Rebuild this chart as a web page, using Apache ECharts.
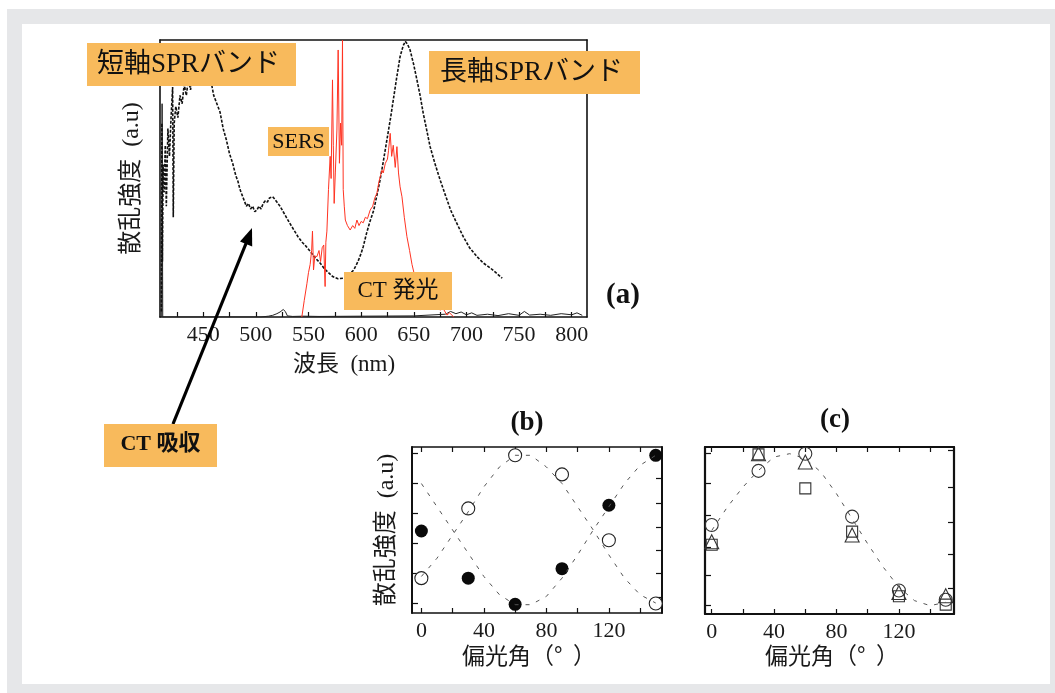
<!DOCTYPE html>
<html>
<head>
<meta charset="utf-8">
<script src="https://cdn.jsdelivr.net/npm/echarts@6.0.0/dist/echarts.min.js"></script>
<style>
  html, body { margin: 0; padding: 0; background: #ffffff; }
  #frame { position: absolute; left: 7px; top: 9px; width: 1048px; height: 684px; background: #e6e7e9; }
  #inner { position: absolute; left: 22px; top: 24px; width: 1028px; height: 660px; background: #ffffff; }
  #chart { position: absolute; left: 0; top: 0; width: 1055px; height: 693px; }
</style>
</head>
<body>
<div id="frame"></div>
<div id="inner"></div>
<div id="chart"></div>
<script>
// ---------- Panel (a): spectra (wavelength nm, relative intensity) ----------
const waveTicks = [450, 500, 550, 600, 650, 700, 750, 800];
const waveMinorTicks = [425, 450, 475, 500, 525, 550, 575, 600, 625, 650, 675, 700, 725, 750, 775, 800];

// scattering spectrum (short-axis + long-axis SPR bands)
const scatterSpectrum = [
  [410.3, 0.02], [410.8, 0.70], [411.3, 0.20], [412, 0.55], [413, 0.45], [414, 0.62], [415, 0.40],
  [416.5, 0.68], [418, 0.58], [419.5, 0.72], [421, 0.83], [421.6, 0.36], [422.5, 0.70], [424, 0.76],
  [426, 0.72], [428, 0.80], [430, 0.77], [432, 0.84], [434, 0.80], [436, 0.86], [438, 0.82], [440, 0.88],
  [443, 0.85], [446, 0.90], [449, 0.87], [452, 0.89], [455, 0.86], [458, 0.84], [460, 0.80], [463, 0.77],
  [466, 0.74], [469, 0.68], [472, 0.64], [475, 0.59], [478, 0.555], [481, 0.51], [483, 0.49], [485, 0.46],
  [487, 0.44], [489, 0.42], [491, 0.40], [493, 0.41], [495, 0.39], [497, 0.40], [499, 0.38], [501, 0.386],
  [503, 0.40], [505, 0.39], [507, 0.41], [509, 0.42], [511, 0.415], [513, 0.43], [516, 0.434], [518, 0.425],
  [520, 0.415], [523, 0.40], [526, 0.38], [529, 0.36], [532, 0.34], [536, 0.315], [540, 0.29], [544, 0.27],
  [548, 0.254], [552, 0.235], [556, 0.215], [561, 0.195], [565, 0.175], [569, 0.16], [573, 0.146],
  [578, 0.138], [583, 0.14], [588, 0.15], [593, 0.17], [597, 0.20], [600, 0.23], [602, 0.254], [605, 0.30],
  [608, 0.34], [612, 0.386], [615, 0.44], [618, 0.495], [621, 0.56], [624.5, 0.64], [628, 0.72],
  [631, 0.795], [634, 0.87], [637, 0.94], [640, 0.98], [642, 0.995], [644, 0.985], [646.5, 0.964],
  [650, 0.91], [653, 0.856], [656, 0.80], [659, 0.735], [662, 0.68], [665.5, 0.615], [670, 0.555],
  [675, 0.495], [680, 0.44], [685, 0.386], [690, 0.345], [697, 0.29], [703, 0.25], [710, 0.218],
  [716, 0.195], [723, 0.176], [728, 0.16], [734, 0.14]
];

// SERS + CT emission spectrum (red)
const emissionSpectrum = [
  [543.7, 0], [546, 0.06], [548.5, 0.12], [550, 0.16], [551.6, 0.19], [553, 0.24], [553.8, 0.31],
  [554.8, 0.17], [556, 0.22], [558, 0.218], [560, 0.24], [561.5, 0.20], [563, 0.25], [564.5, 0.26],
  [565.8, 0.11], [566.5, 0.27], [567.5, 0.31], [569, 0.46], [570.6, 0.58], [571.5, 0.50], [572.8, 0.856],
  [573.6, 0.62], [574.4, 0.41], [575.5, 0.52], [577, 0.675], [578.2, 0.964], [579.4, 0.555], [580.5, 0.70],
  [581.5, 0.62], [582.3, 1.0], [583, 0.46], [584, 0.40], [585, 0.35], [587, 0.33], [589.6, 0.314],
  [592, 0.33], [594, 0.32], [596, 0.35], [598, 0.33], [600, 0.345], [602, 0.34], [604, 0.36], [606, 0.355],
  [608.6, 0.386], [611, 0.40], [613, 0.43], [615, 0.447], [617, 0.49], [619.8, 0.53], [621, 0.52],
  [623, 0.555], [625, 0.57], [626, 0.60], [627.6, 0.663], [629, 0.58], [630.5, 0.62], [632.4, 0.54],
  [634, 0.615], [635.5, 0.52], [637, 0.47], [638.8, 0.434], [641, 0.36], [643.5, 0.29], [646, 0.24],
  [648.3, 0.19], [652, 0.13], [658, 0.08], [665, 0.05], [670, 0.04], [675, 0.025], [678, 0.03],
  [681.5, 0.007], [684, 0.015], [688, 0]
];

// background / baseline trace (thin solid black)
const baselineSpectrum = [
  [410.6, 0], [411, 0.77], [411.6, 0], [505, 0], [512, 0.003], [516, 0.006], [520, 0.012], [523, 0.018],
  [526, 0.027], [528, 0.02], [530, 0.004], [535, 0.002], [545, 0.003], [560, 0.002], [600, 0.003],
  [650, 0.004], [680, 0.01], [685, 0.02], [690, 0.012], [695, 0.018], [700, 0.008], [705, 0.015],
  [710, 0.006], [720, 0.01], [730, 0.005], [740, 0.012], [750, 0.006], [755, 0.02], [760, 0.007],
  [770, 0.01], [780, 0.006], [790, 0.012], [800, 0.008], [805, 0.015], [810, 0.006]
];

// ---------- Panels (b) and (c): polarization angle dependence ----------
const angleTicks = [0, 40, 80, 120];
const angleMinorTicks = [0, 20, 40, 60, 80, 100, 120, 140];
const measAngles = [0, 30, 60, 90, 120, 150];
const fitAngles = [0, 10, 20, 30, 40, 50, 60, 70, 80, 90, 100, 110, 120, 130, 140, 150];

// (b)
const bOpen   = [0.21, 0.63, 0.95, 0.835, 0.438, 0.057];
const bFilled = [0.494, 0.21, 0.052, 0.267, 0.649, 0.95];
const bOpenFit   = [0.22, 0.33, 0.47, 0.61, 0.76, 0.88, 0.95, 0.95, 0.88, 0.78, 0.64, 0.50, 0.35, 0.21, 0.11, 0.06];
const bFilledFit = [0.78, 0.64, 0.50, 0.36, 0.22, 0.11, 0.05, 0.05, 0.10, 0.21, 0.35, 0.50, 0.64, 0.78, 0.89, 0.95];
const bLeftTicks  = [0.057, 0.237, 0.418, 0.6, 0.78, 0.96];
const bRightTicks = [0.096, 0.237, 0.378, 0.518, 0.66, 0.81, 0.95];

// (c)
const cCircle   = [0.533, 0.857, 0.96, 0.583, 0.141, 0.085];
const cTriangle = [0.433, 0.96, 0.91, 0.473, 0.129, 0.109];
const cSquare   = [0.415, 0.956, 0.752, 0.493, 0.106, 0.056];
const cFit = [0.50, 0.64, 0.76, 0.86, 0.94, 0.96, 0.93, 0.85, 0.72, 0.57, 0.42, 0.28, 0.16, 0.08, 0.05, 0.07];
const cLeftTicks  = [0.05, 0.23, 0.40, 0.59, 0.78, 0.96];
const cRightTicks = [0.157, 0.356, 0.55, 0.76, 0.98];

const SERIF = '"Liberation Serif", "Times New Roman", "Noto Sans CJK JP", serif';
const JP = '"Noto Sans CJK JP", "Liberation Serif", sans-serif';
const MIX = '"Liberation Serif", "Noto Sans CJK JP", serif';
const ORANGE = '#F8BA5C';

const pairs = (xs, ys) => xs.map((x, i) => [x, ys[i]]);

function xAxisBottom(grid, min, max, labels, ticks, lw) {
  return {
    type: 'value', gridIndex: grid, position: 'bottom', min: min, max: max,
    axisLine: { show: true, onZero: false, lineStyle: { color: '#111', width: lw } },
    axisTick: { show: true, inside: true, length: 5, customValues: ticks, lineStyle: { color: '#111', width: 1.2 } },
    axisLabel: { show: true, customValues: labels, margin: 7, color: '#1a1a1a', fontSize: 22, fontFamily: SERIF },
    splitLine: { show: false }
  };
}
function xAxisTop(grid, min, max, ticks, lw) {
  return {
    type: 'value', gridIndex: grid, position: 'top', min: min, max: max,
    axisLine: { show: true, onZero: false, lineStyle: { color: '#111', width: lw } },
    axisTick: { show: !!ticks, inside: true, length: 5, customValues: ticks || [], lineStyle: { color: '#111', width: 1.2 } },
    axisLabel: { show: false }, splitLine: { show: false }
  };
}
function yAxisNamed(grid, pos, ticks, lw, name, nameGap) {
  const ax = {
    type: 'value', gridIndex: grid, position: pos, min: 0, max: 1,
    axisLine: { show: true, onZero: false, lineStyle: { color: '#111', width: lw } },
    axisTick: { show: !!ticks, inside: true, length: 6, customValues: ticks || [], lineStyle: { color: '#111', width: 1.2 } },
    axisLabel: { show: false }, splitLine: { show: false }
  };
  if (name) {
    ax.name = name;
    ax.nameLocation = 'middle';
    ax.nameGap = nameGap;
    ax.nameRotate = 90;
    ax.nameTextStyle = { color: '#1a1a1a', fontSize: 24, fontFamily: MIX };
  }
  return ax;
}

const chart = echarts.init(document.getElementById('chart'), null, { renderer: 'canvas' });

const option = {
  backgroundColor: 'transparent',
  animation: false,
  grid: [
    { left: 160, top: 40, width: 427, height: 277, show: false },
    { left: 412, top: 447, width: 250, height: 166, show: false },
    { left: 705, top: 447, width: 249, height: 167, show: false }
  ],
  xAxis: [
    xAxisBottom(0, 409, 814.5, waveTicks, waveMinorTicks, 1.6),
    xAxisTop(0, 409, 814.5, null, 1.6),
    xAxisBottom(1, -6, 154, angleTicks, angleMinorTicks, 1.5),
    xAxisTop(1, -6, 154, angleMinorTicks, 1.5),
    xAxisBottom(2, -4.3, 155.3, angleTicks, angleMinorTicks, 2),
    xAxisTop(2, -4.3, 155.3, angleMinorTicks, 2)
  ],
  yAxis: [
    yAxisNamed(0, 'left', null, 1.6, '散乱強度  (a.u)', 16),
    yAxisNamed(0, 'right', null, 1.6),
    yAxisNamed(1, 'left', bLeftTicks, 2, '散乱強度  (a.u)', 13),
    yAxisNamed(1, 'right', bRightTicks, 2),
    yAxisNamed(2, 'left', cLeftTicks, 2.2),
    yAxisNamed(2, 'right', cRightTicks, 2.2)
  ],
  series: [
    { type: 'line', xAxisIndex: 0, yAxisIndex: 0, data: baselineSpectrum, symbol: 'none', z: 2,
      lineStyle: { color: '#222', width: 1 } },
    { type: 'line', xAxisIndex: 0, yAxisIndex: 0, data: scatterSpectrum, symbol: 'none', z: 3,
      lineStyle: { color: '#111', width: 1.6, type: [3, 1.5] } },
    { type: 'line', xAxisIndex: 0, yAxisIndex: 0, data: emissionSpectrum, symbol: 'none', z: 4,
      lineStyle: { color: '#ff3322', width: 1 } },

    { type: 'line', xAxisIndex: 2, yAxisIndex: 2, data: pairs(fitAngles, bOpenFit), symbol: 'none',
      lineStyle: { color: '#555', width: 1, type: [4, 7] } },
    { type: 'line', xAxisIndex: 2, yAxisIndex: 2, data: pairs(fitAngles, bFilledFit), symbol: 'none',
      lineStyle: { color: '#555', width: 1, type: [4, 7] } },
    { type: 'scatter', xAxisIndex: 2, yAxisIndex: 2, data: pairs(measAngles, bOpen), symbol: 'circle', symbolSize: 13,
      itemStyle: { color: '#ffffff', borderColor: '#222', borderWidth: 1.1, opacity: 1 } },
    { type: 'scatter', xAxisIndex: 2, yAxisIndex: 2, data: pairs(measAngles, bFilled), symbol: 'circle', symbolSize: 13,
      itemStyle: { color: '#0a0a0a', opacity: 1 } },

    { type: 'line', xAxisIndex: 4, yAxisIndex: 4, data: pairs(fitAngles, cFit), symbol: 'none',
      lineStyle: { color: '#555', width: 1, type: [4, 7] } },
    { type: 'scatter', xAxisIndex: 4, yAxisIndex: 4, data: pairs(measAngles, cCircle), symbol: 'circle', symbolSize: 13,
      itemStyle: { color: 'rgba(255,255,255,0)', borderColor: '#333', borderWidth: 1.1, opacity: 1 } },
    { type: 'scatter', xAxisIndex: 4, yAxisIndex: 4, data: pairs(measAngles, cTriangle), symbol: 'triangle', symbolSize: 14,
      itemStyle: { color: 'rgba(255,255,255,0)', borderColor: '#333', borderWidth: 1.1, opacity: 1 } },
    { type: 'scatter', xAxisIndex: 4, yAxisIndex: 4, data: pairs(measAngles, cSquare), symbol: 'rect', symbolSize: 11,
      itemStyle: { color: 'rgba(255,255,255,0)', borderColor: '#333', borderWidth: 1.1, opacity: 1 } }
  ],
  graphic: [
    { type: 'text', x: 344, y: 365, style: { text: '波長  (nm)', fill: '#1a1a1a', font: '23px ' + MIX, align: 'center', verticalAlign: 'middle' } },
    { type: 'text', x: 529, y: 655, style: { text: '偏光角（°  ）', fill: '#1a1a1a', font: '23px ' + JP, align: 'center', verticalAlign: 'middle' } },
    { type: 'text', x: 832, y: 655, style: { text: '偏光角（°  ）', fill: '#1a1a1a', font: '23px ' + JP, align: 'center', verticalAlign: 'middle' } },
    { type: 'text', x: 623, y: 296, style: { text: '(a)', fill: '#111', font: 'bold 29px ' + SERIF, align: 'center', verticalAlign: 'middle' } },
    { type: 'text', x: 527, y: 423, style: { text: '(b)', fill: '#111', font: 'bold 27px ' + SERIF, align: 'center', verticalAlign: 'middle' } },
    { type: 'text', x: 835, y: 420, style: { text: '(c)', fill: '#111', font: 'bold 27px ' + SERIF, align: 'center', verticalAlign: 'middle' } },
    { type: 'rect', shape: { x: 87, y: 43, width: 209, height: 43 }, style: { fill: ORANGE }, z: 100 },
    { type: 'text', x: 97, y: 65, z: 101, style: { text: '短軸SPRバンド', fill: '#111', font: '27px ' + MIX, verticalAlign: 'middle' } },
    { type: 'rect', shape: { x: 429, y: 51, width: 211, height: 43 }, style: { fill: ORANGE }, z: 100 },
    { type: 'text', x: 440, y: 73, z: 101, style: { text: '長軸SPRバンド', fill: '#111', font: '27px ' + MIX, verticalAlign: 'middle' } },
    { type: 'rect', shape: { x: 268, y: 127, width: 61, height: 29 }, style: { fill: ORANGE }, z: 100 },
    { type: 'text', x: 298.5, y: 142, z: 101, style: { text: 'SERS', fill: '#111', font: '22px ' + SERIF, align: 'center', verticalAlign: 'middle' } },
    { type: 'rect', shape: { x: 344, y: 272, width: 108, height: 38 }, style: { fill: ORANGE }, z: 100 },
    { type: 'text', x: 398, y: 291, z: 101, style: { text: 'CT 発光', fill: '#111', font: '23px ' + MIX, align: 'center', verticalAlign: 'middle' } },
    { type: 'rect', shape: { x: 104, y: 424, width: 113, height: 43 }, style: { fill: ORANGE }, z: 100 },
    { type: 'text', x: 160.5, y: 444, z: 101, style: { text: 'CT 吸収', fill: '#111', font: 'bold 22px ' + MIX, align: 'center', verticalAlign: 'middle' } },
    { type: 'line', z: 99, shape: { x1: 173, y1: 424, x2: 247, y2: 241 }, style: { stroke: '#000', lineWidth: 3.2 } },
    { type: 'polygon', z: 99, shape: { points: [[252, 228], [252.2, 246.5], [240, 241.5]] }, style: { fill: '#000' } }
  ]
};
chart.setOption(option);
</script>
</body>
</html>
